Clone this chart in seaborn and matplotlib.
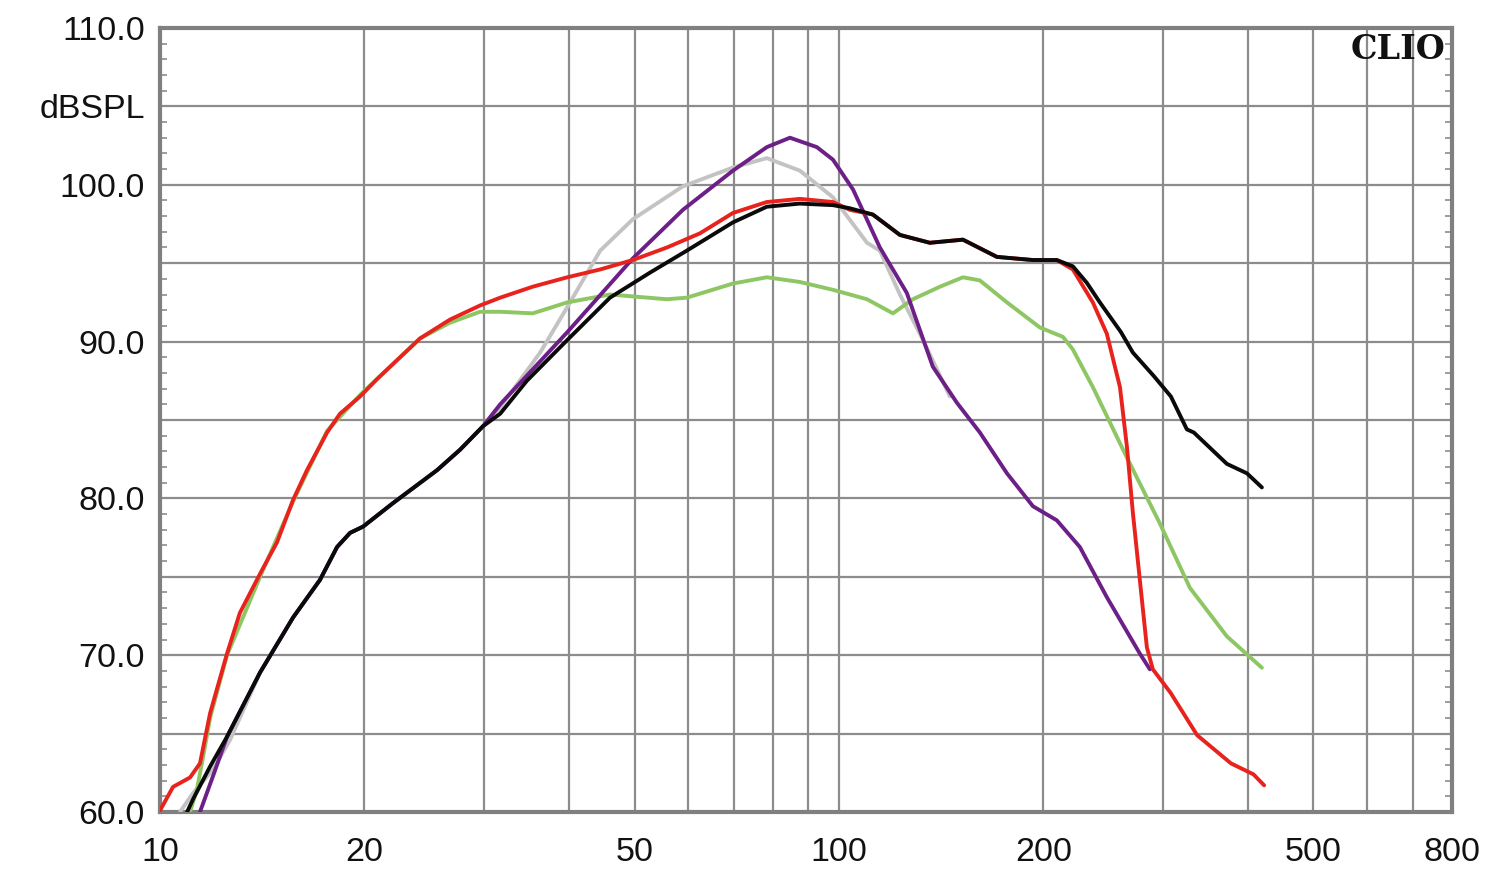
import numpy as np
import pandas as pd
import matplotlib
matplotlib.use("Agg")
import matplotlib.pyplot as plt
import seaborn as sns

# ---------------- data ----------------
red_f = [10.0, 10.45, 11.07, 11.45, 11.85, 12.55, 13.11, 14.04, 14.87, 15.70, 16.46, 17.62,
         18.41, 19.71, 20.87, 24.15, 26.73, 29.6, 31.7, 35.4, 39.8, 44.5, 49.7, 55.8, 62.4,
         69.8, 78.3, 87.6, 98.0, 103.8, 112.2, 123, 136.1, 152.3, 170.9, 193.1, 209.4, 221.1,
         236.6, 248.1, 259.4, 265.6, 271.0, 277.5, 284.2, 290.0, 308, 337, 378, 408, 423]
red_db = [60.1, 61.6, 62.2, 63.1, 66.3, 70.1, 72.7, 75.2, 77.2, 79.9, 81.8, 84.2,
          85.4, 86.5, 87.6, 90.2, 91.4, 92.3, 92.8, 93.5, 94.1, 94.6, 95.2, 96.0, 96.9,
          98.2, 98.9, 99.1, 98.9, 98.4, 98.1, 96.8, 96.3, 96.5, 95.4, 95.2, 95.2, 94.6,
          92.5, 90.5, 87.1, 83.3, 79.1, 74.8, 70.5, 69.1, 67.6, 64.9, 63.1, 62.4, 61.7]

green_f = [11.07, 11.34, 11.57, 11.85, 12.55, 14.04, 15.70, 17.62, 19.71, 24.15, 26.73, 29.6,
           31.7, 35.4, 39.8, 46.0, 55.8, 59.7, 69.8, 78.3, 87.6, 98.0, 110, 120.1, 128.5,
           140.9, 152.3, 161.3, 176.8, 197.7, 213.8, 221.1, 236.6, 265.6, 297.0, 328.8,
           372.8, 419.8]
green_db = [60.0, 61.5, 63.5, 66.0, 70.0, 75.0, 79.8, 84.3, 86.6, 90.2, 91.2, 91.9,
            91.9, 91.8, 92.5, 93.0, 92.7, 92.8, 93.7, 94.1, 93.8, 93.3, 92.7, 91.8, 92.7,
            93.5, 94.1, 93.9, 92.5, 90.9, 90.3, 89.5, 87.1, 82.6, 78.4, 74.3,
            71.2, 69.2]

gray_f = [10.7, 11.18, 11.97, 12.68, 14.04, 15.70, 17.20, 18.23, 19.05, 19.91, 22.04, 25.59,
          27.66, 29.9, 31.7, 36.3, 39.8, 44.5, 49.7, 58.9, 69.8, 78.3, 87.6, 98.0, 110,
          114.9, 123, 133, 145.7]
gray_db = [60.0, 61.2, 62.7, 64.6, 68.9, 72.4, 74.8, 76.9, 77.8, 78.2, 79.7, 81.8,
           83.1, 84.6, 85.8, 89.3, 92.2, 95.8, 97.8, 99.9, 101.1, 101.7, 100.9, 99.2, 96.3,
           95.8, 93.0, 90.1, 86.5]

purple_f = [11.45, 11.97, 12.55, 14.04, 15.70, 17.20, 18.23, 19.05, 19.91, 22.04, 25.59, 27.66,
            29.9, 31.7, 39.8, 49.7, 58.9, 69.8, 78.3, 84.7, 92.8, 98.0, 104.9, 114.9, 125.9,
            137.5, 149.2, 161.3, 176.8, 193.1, 209.4, 226.4, 248.1, 277.5, 287.1]
purple_db = [60.0, 62.3, 64.8, 68.9, 72.4, 74.8, 76.9, 77.8, 78.2, 79.7, 81.8, 83.1,
             84.6, 86.0, 90.6, 95.3, 98.4, 100.9, 102.4, 103.0, 102.4, 101.6, 99.7, 96.0, 93.1,
             88.4, 86.1, 84.2, 81.6, 79.5, 78.6, 76.9, 73.7, 70.1, 69.1]

black_f = [10.96, 11.18, 11.85, 12.55, 14.04, 15.70, 17.20, 18.23, 19.05, 19.91, 22.04, 25.59,
           27.66, 29.9, 31.7, 34.7, 39.8, 46.0, 52.7, 59.7, 69.8, 78.3, 87.6, 98.0, 103.8,
           112.2, 123, 136.1, 152.3, 170.9, 193.1, 209.4, 221.1, 231.8, 242.3, 260.3, 271.0,
           291.0, 308.3, 325.5, 333.3, 372.8, 399, 419.8]
black_db = [60.0, 60.8, 62.9, 64.8, 68.9, 72.4, 74.8, 76.9, 77.8, 78.2, 79.7, 81.8,
            83.1, 84.6, 85.4, 87.5, 90.1, 92.8, 94.4, 95.8, 97.6, 98.6, 98.8, 98.7, 98.5,
            98.1, 96.8, 96.3, 96.5, 95.4, 95.2, 95.2, 94.8, 93.75, 92.5, 90.6, 89.3,
            87.8, 86.5, 84.4, 84.2, 82.2, 81.6, 80.7]

x_tick_values = [10, 20, 50, 100, 200, 500, 800]
x_tick_labels = ["10", "20", "50", "100", "200", "500", "800"]
y_tick_values = [60, 65, 70, 75, 80, 85, 90, 95, 100, 105, 110]
y_tick_labels = ["60.0", "", "70.0", "", "80.0", "", "90.0", "", "100.0", "dBSPL", "110.0"]
x_grid_values = [20, 30, 40, 50, 60, 70, 80, 90, 100, 200, 300, 400, 500, 600, 700]

series_order = ["gray", "green", "purple", "red", "black"]
palette = {"gray": "#c3c3c3", "green": "#8dc663", "purple": "#6c1f86",
           "red": "#e8231e", "black": "#0a0a0a"}

frames = []
for name, f, d in [("gray", gray_f, gray_db), ("green", green_f, green_db),
                   ("purple", purple_f, purple_db), ("red", red_f, red_db),
                   ("black", black_f, black_db)]:
    frames.append(pd.DataFrame({"freq": f, "spl": d, "curve": name}))
df = pd.concat(frames, ignore_index=True)

# ---------------- plot ----------------
sns.set_theme(style="white")
plt.rcParams["font.family"] = ["Liberation Sans", "DejaVu Sans"]

fig = plt.figure(figsize=(15, 8.85), dpi=100)
ax = fig.add_axes([0.1067, 0.0825, 0.8613, 0.8859])

ax.set_xscale("log")
ax.set_xlim(10, 800)
ax.set_ylim(60, 110)

grid_color = "#8c8c8c"
for xv in x_grid_values:
    ax.axvline(xv, color=grid_color, lw=1.6, zorder=1)
for yv in y_tick_values[1:-1]:
    ax.axhline(yv, color=grid_color, lw=1.6, zorder=1)

sns.lineplot(data=df, x="freq", y="spl", hue="curve", hue_order=series_order,
             palette=palette, estimator=None, sort=True, linewidth=2.8,
             legend=False, ax=ax, zorder=3)
for line in ax.get_lines():
    line.set_solid_joinstyle("round")
    line.set_solid_capstyle("round")

ax.set_xticks(x_tick_values)
ax.set_xticklabels(x_tick_labels)
ax.xaxis.set_minor_locator(matplotlib.ticker.NullLocator())
ax.set_yticks(y_tick_values)
ax.set_yticklabels(y_tick_labels)
ax.set_yticks(np.arange(60, 111, 1), minor=True)

ax.tick_params(axis="x", which="major", length=0, pad=18, labelsize=24.5, labelcolor="#111111")
ax.tick_params(axis="y", which="major", length=0, pad=11, labelsize=24.5, labelcolor="#111111")
ax.tick_params(axis="y", which="minor", direction="in", length=5, width=1.2,
               color=grid_color, left=True, right=True)

ax.set_xlabel("")
ax.set_ylabel("")

for sp in ax.spines.values():
    sp.set_color("#808080")
    sp.set_linewidth(3)
    sp.set_visible(True)

ax.text(0.995, 0.994, "CLIO", transform=ax.transAxes, ha="right", va="top",
        fontsize=24, fontweight="bold", family="DejaVu Serif", color="#111111", zorder=5)

fig.savefig("out.png", dpi=100, facecolor="white")
